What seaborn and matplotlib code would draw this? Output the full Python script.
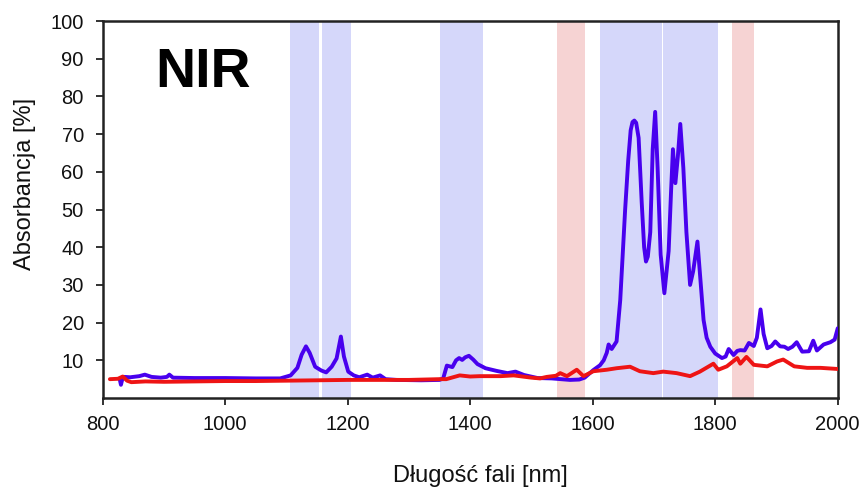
import matplotlib
matplotlib.use("Agg")
import matplotlib.pyplot as plt
import seaborn as sns

# widmo NIR - dwie krzywe
blue_nm = [828, 830, 833, 836, 845, 860, 869, 880, 895, 905, 909, 915, 950, 1000, 1050, 1090,
           1107, 1118, 1125, 1132, 1138, 1147, 1157, 1165, 1174, 1182, 1189, 1194, 1201, 1210,
           1219, 1232, 1241, 1253, 1262, 1280, 1320, 1350, 1356, 1362, 1371, 1377, 1382, 1387,
           1392, 1398, 1405, 1412, 1425, 1443, 1461, 1474, 1488, 1510, 1533, 1547, 1563, 1578,
           1587, 1601, 1612, 1618, 1623, 1626, 1631, 1639, 1645, 1653, 1658, 1662, 1665, 1668,
           1671, 1675, 1680, 1684, 1687, 1690, 1694, 1698, 1702, 1706, 1711, 1717, 1724, 1728,
           1731, 1735, 1739, 1743, 1748, 1753, 1759, 1764, 1771, 1776, 1781, 1786, 1792, 1800,
           1811, 1817, 1822, 1830, 1836, 1841, 1848, 1855, 1863, 1868, 1874, 1879, 1885, 1892,
           1898, 1906, 1913, 1919, 1926, 1933, 1942, 1953, 1960, 1966, 1977, 1988, 1995, 2000]
blue_val = [5.0, 3.5, 5.5, 5.6, 5.5, 5.8, 6.2, 5.6, 5.4, 5.6, 6.2, 5.4, 5.3, 5.3, 5.2, 5.2,
            6.0, 8.0, 11.5, 13.7, 12.0, 8.3, 7.3, 6.8, 8.3, 10.5, 16.3, 11.0, 7.0, 6.0,
            5.5, 6.2, 5.4, 6.0, 5.0, 4.8, 4.7, 4.8, 5.2, 8.6, 8.2, 10.0, 10.6, 10.1,
            10.8, 11.2, 10.2, 9.0, 7.9, 7.2, 6.6, 7.0, 6.1, 5.3, 5.2, 5.0, 4.8, 4.9,
            5.4, 7.4, 8.7, 10.0, 12.0, 14.2, 13.0, 15.0, 26, 50, 63, 71, 73.2, 73.6,
            73.0, 69, 52, 40, 36.2, 37.5, 44, 66, 75.9, 61, 38, 27.8, 39, 55,
            66, 57, 64, 72.7, 61, 44, 30, 33.6, 41.5, 31, 20.7, 16, 13.6, 11.8,
            10.6, 11.0, 13.0, 11.4, 12.5, 12.7, 12.6, 14.6, 13.8, 16, 23.5, 17, 13.2, 13.8,
            15.0, 13.7, 13.6, 13.0, 13.6, 14.8, 12.3, 12.4, 15.2, 12.6, 14.2, 14.8, 15.5, 18.5]

red_nm = [812, 825, 833, 840, 847, 870, 900, 950, 1000, 1050, 1100, 1150, 1200, 1250, 1300,
          1350, 1361, 1383, 1400, 1416, 1450, 1471, 1500, 1514, 1525, 1540, 1547, 1558, 1574,
          1585, 1601, 1623, 1639, 1661, 1677, 1699, 1715, 1737, 1759, 1775, 1797, 1805, 1819,
          1836, 1841, 1851, 1863, 1885, 1901, 1911, 1929, 1950, 1972, 2000]
red_val = [5.0, 5.1, 5.7, 4.6, 4.2, 4.4, 4.3, 4.4, 4.5, 4.5, 4.6, 4.7, 4.8, 4.8, 4.8,
           5.0, 5.0, 6.0, 5.7, 5.8, 5.8, 6.0, 5.4, 5.2, 5.6, 5.9, 6.6, 5.8, 7.5,
           5.8, 7.1, 7.5, 7.9, 8.3, 7.1, 6.6, 7.0, 6.6, 5.8, 7.0, 9.1, 7.5, 8.4,
           10.6, 9.1, 10.9, 8.8, 8.4, 9.7, 10.2, 8.4, 8.0, 8.0, 7.7]

# zaznaczone pasma
band_lo = [1106, 1159, 1351, 1542, 1612, 1715, 1828]
band_hi = [1153, 1206, 1421, 1588, 1713, 1804, 1864]
band_kind = ["b", "b", "b", "r", "b", "b", "r"]

y_ticks = [10, 20, 30, 40, 50, 60, 70, 80, 90, 100]
x_ticks = [800, 1000, 1200, 1400, 1600, 1800, 2000]

sns.set_theme(style="white")
plt.rcParams["font.family"] = ["Liberation Sans", "DejaVu Sans"]

fig = plt.figure(figsize=(8.64, 4.88), dpi=100)
ax = fig.add_axes([0.1187, 0.1844, 0.8509, 0.7725])

span_col = {"b": "#d5d7fa", "r": "#f6d3d3"}
for lo, hi, k in zip(band_lo, band_hi, band_kind):
    ax.axvspan(lo, hi, color=span_col[k], lw=0, zorder=0)

sns.lineplot(x=blue_nm, y=blue_val, color="#4800ee", lw=2.8, ax=ax, zorder=3)
sns.lineplot(x=red_nm, y=red_val, color="#ee1414", lw=2.8, ax=ax, zorder=4)

ax.set_xlim(800, 2000)
ax.set_ylim(0, 100)
ax.set_xticks(x_ticks)
ax.set_yticks(y_ticks)
ax.tick_params(axis="both", direction="out", length=5, width=1.3, colors="#222222",
               labelsize=14.5, labelcolor="#111111", left=True, bottom=True)
ax.tick_params(axis="y", pad=8.5)
ax.tick_params(axis="x", pad=7)
for s in ax.spines.values():
    s.set_color("#222222")
    s.set_linewidth(1.8)

ax.set_xlabel("Długość fali [nm]", fontsize=17, color="#111111")
ax.set_ylabel("Absorbancja [%]", fontsize=17, color="#111111")
ax.xaxis.set_label_coords(0.5136, -0.178)
ax.yaxis.set_label_coords(-0.091, 0.569)

ax.text(0.072, 0.862, "NIR", transform=ax.transAxes, fontsize=40, fontweight="bold",
        color="black", va="center", ha="left")

fig.savefig("out.png", dpi=100)
